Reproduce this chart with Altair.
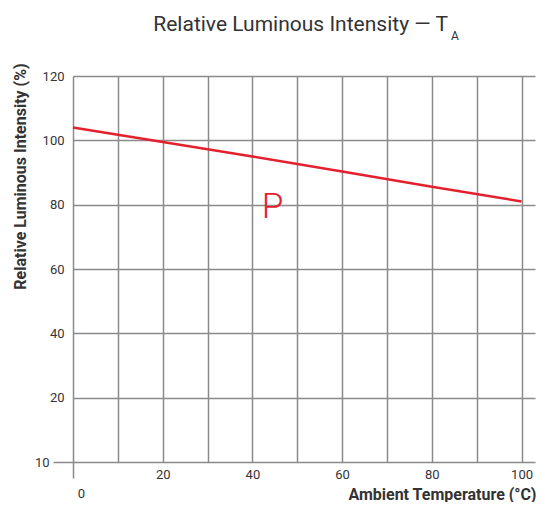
import altair as alt
import pandas as pd

temps = [0, 20, 40, 60, 80, 100]
intensity = [104, 99.5, 95, 90.3, 85.6, 81]
series_label = ["P"]
label_pos = [44.5]
label_val = [76]

x_ticks = list(range(0, 101, 10))
y_ticks = list(range(0, 121, 10))

title_main = "Relative Luminous Intensity — T"
title_sub = "A"

line_df = pd.DataFrame({"temp": temps, "intensity": intensity})
lab_df = pd.DataFrame({"temp": label_pos, "intensity": label_val, "name": series_label})

FONT = "Roboto"
RED = "#e4202e"
GRID = "#8a8a8a"
TXT = "#333"

x_enc = alt.X(
    "temp:Q",
    scale=alt.Scale(domain=[0, 103], nice=False, zero=False),
    axis=alt.Axis(
        values=x_ticks,
        labelExpr="datum.value % 20 == 0 ? datum.label : ''",
        labelPadding={"expr": "datum.value == 0 ? 9 : 6"},
        labelOffset={"expr": "datum.value == 0 ? 8 : 0"},
        tickSize={"expr": "datum.value == 0 ? 16 : 0"},
        tickColor=GRID,
        tickWidth=1.5,
        domain=False,
        grid=True,
        gridColor=GRID,
        gridWidth=1.5,
        labelFont=FONT,
        labelFontSize=13,
        labelColor=TXT,
        labelFlush=False,
        title="Ambient Temperature (°C)",
        titleFont=FONT,
        titleFontSize=16,
        titleFontWeight="bold",
        titleColor=TXT,
        titleAnchor="end",
        titleAlign="right",
        titleBaseline="middle",
        titleX=463,
        titleY=32,
    ),
)
y_enc = alt.Y(
    "intensity:Q",
    scale=alt.Scale(domain=[0, 120], nice=False, zero=False),
    axis=alt.Axis(
        values=y_ticks,
        labelExpr="datum.value == 0 ? '10' : (datum.value % 20 == 0 ? datum.label : '')",
        labelPadding={"expr": "datum.value == 0 ? 4 : 9"},
        tickSize={"expr": "datum.value == 0 ? 20 : 0"},
        tickColor=GRID,
        tickWidth=1.5,
        domain=False,
        grid=True,
        gridColor=GRID,
        gridWidth=1.5,
        labelFont=FONT,
        labelFontSize=13,
        labelColor=TXT,
        labelFlush=False,
        title="Relative Luminous Intensity (%)",
        titleFont=FONT,
        titleFontSize=16,
        titleFontWeight="bold",
        titleColor=TXT,
        titleAngle=-90,
        titleAlign="center",
        titleBaseline="middle",
        titleX=-53,
        titleY=100,
    ),
)

line = alt.Chart(line_df).mark_line(color=RED, strokeWidth=2.5).encode(x=x_enc, y=y_enc)

label = alt.Chart(lab_df).mark_text(
    color=RED, font=FONT, fontSize=35, fontWeight=300, align="center", baseline="alphabetic"
).encode(x="temp:Q", y="intensity:Q", text="name:N")

title1 = alt.Chart(pd.DataFrame({"t": [title_main]})).mark_text(
    font=FONT, fontSize=21, color=TXT, align="right", baseline="alphabetic"
).encode(x=alt.value(375), y=alt.value(-45), text="t:N")

title2 = alt.Chart(pd.DataFrame({"t": [title_sub]})).mark_text(
    font=FONT, fontSize=12, color=TXT, align="left", baseline="alphabetic"
).encode(x=alt.value(378), y=alt.value(-36), text="t:N")

chart = (
    alt.layer(line, label, title1, title2)
    .properties(
        width=462,
        height=386,
        autosize=alt.AutoSizeParams(type="none"),
        padding={"left": 65, "top": 68, "right": 2, "bottom": 40},
    )
    .configure_view(stroke=None)
)

chart.save("out.html", embed_options={"renderer": "svg", "actions": False})
